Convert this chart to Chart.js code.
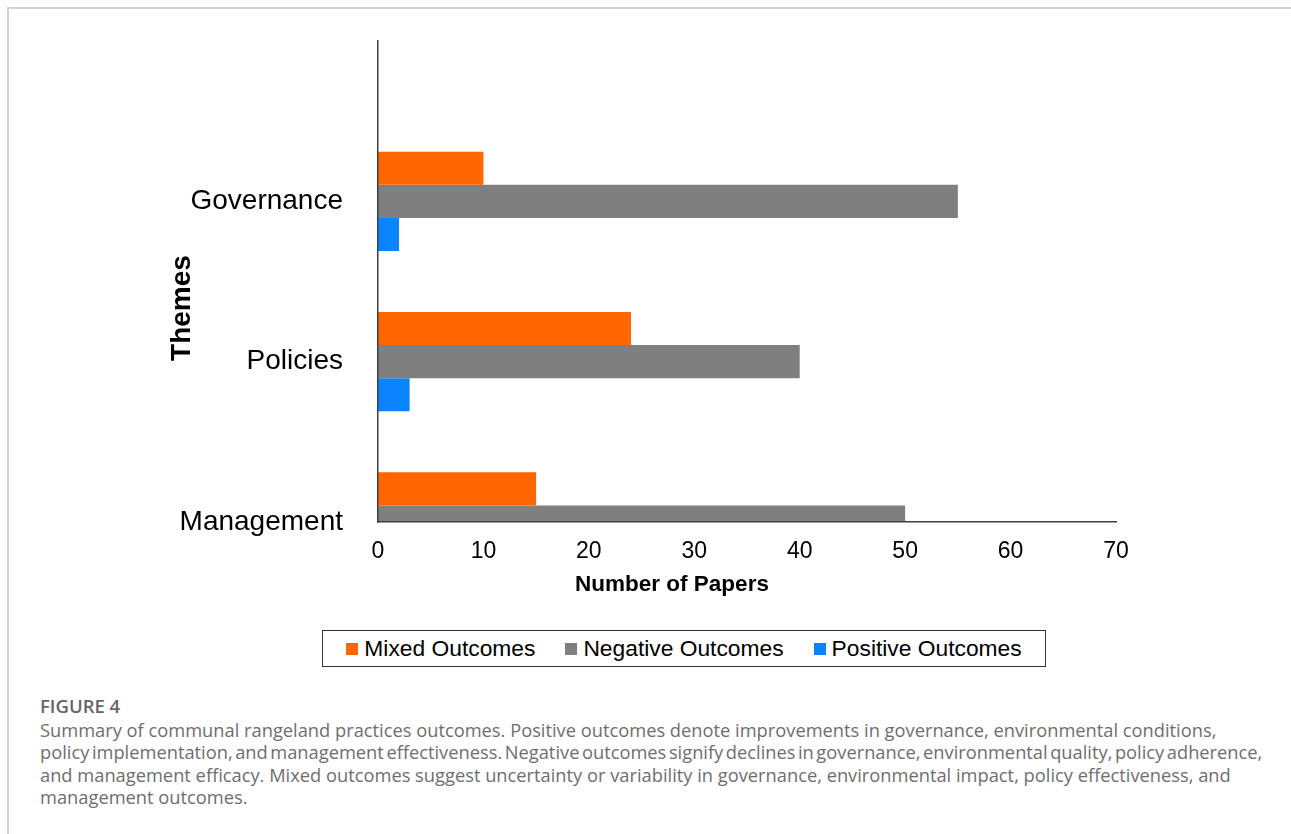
<!DOCTYPE html>
<html>
<head>
<meta charset="utf-8">
<script src="https://cdn.jsdelivr.net/npm/chart.js@4.4.1/dist/chart.umd.min.js"></script>
<style>
  html, body { margin: 0; padding: 0; background: #fff; }
  body { width: 1291px; height: 834px; position: relative; overflow: hidden; }
  #frame { position: absolute; left: 7px; top: 7px; width: 1400px; height: 900px;
           border-left: 2px solid #d2d2d2; border-top: 2px solid #d2d2d2; }
  #chart { position: absolute; left: 0; top: 0; }
  #legend { position: absolute; left: 322px; top: 630px; width: 722px; height: 35px;
            border: 1.5px solid #333; display: flex; align-items: center; justify-content: center;
            font-family: "Liberation Sans", Arial, sans-serif; font-size: 22.8px; color: #000; }
  .item { display: flex; align-items: center; margin: 0 15px; }
  .sw { width: 12px; height: 12px; margin-right: 6px; }
  #figlabel { position: absolute; left: 40px; top: 695px; font-family: "Open Sans", sans-serif;
              font-weight: 600; font-size: 18.5px; line-height: 22px; color: #666; }
  #caption { position: absolute; left: 40px; top: 718.5px; font-family: "Open Sans", sans-serif;
             font-size: 18.3px; line-height: 22.5px; color: #6e6e6e; white-space: nowrap; }
  #caption .tight { word-spacing: -2.2px; }
</style>
</head>
<body>
<div id="frame"></div>
<canvas id="chart" width="1291" height="610"></canvas>
<div id="legend"></div>
<div id="figlabel">FIGURE 4</div>
<div id="caption">Summary of communal rangeland practices outcomes. Positive outcomes denote improvements in governance, environmental conditions,<br><span class="tight">policy implementation, and management effectiveness. Negative outcomes signify declines in governance, environmental quality, policy adherence,</span><br>and management efficacy. Mixed outcomes suggest uncertainty or variability in governance, environmental impact, policy effectiveness, and<br>management outcomes.</div>
<script>
// ---- data ----
const categories = ['Governance', 'Policies', 'Management'];
const seriesNames = ['Mixed Outcomes', 'Negative Outcomes', 'Positive Outcomes'];
const mixedOutcomes = [10, 24, 15];
const negativeOutcomes = [55, 40, 50];
const positiveOutcomes = [2, 3, 0];
const xTicks = [0, 10, 20, 30, 40, 50, 60, 70];
const xTitle = 'Number of Papers';
const yTitle = 'Themes';
const seriesColors = ['#FF6600', '#7F7F7F', '#0A84FF'];

// an empty slot above the first category (as in the original layout)
const yLabels = [''].concat(categories);
const seriesValues = [mixedOutcomes, negativeOutcomes, positiveOutcomes];

const datasets = seriesValues.map((vals, i) => ({
  label: seriesNames[i],
  data: [null].concat(vals),
  backgroundColor: seriesColors[i],
  borderWidth: 0,
  categoryPercentage: 0.62,
  barPercentage: 1.0,
  clip: 0
}));

const titlesPlugin = {
  id: 'axisTitles',
  afterDraw(chart) {
    const ctx = chart.ctx;
    ctx.save();
    ctx.fillStyle = '#000';
    ctx.textAlign = 'center';
    ctx.textBaseline = 'middle';
    ctx.font = 'bold 22.5px "Liberation Sans", Arial, sans-serif';
    ctx.fillText(xTitle, 672, 585);
    ctx.translate(182, 308);
    ctx.rotate(-Math.PI / 2);
    ctx.font = 'bold 28px "Liberation Sans", Arial, sans-serif';
    ctx.fillText(yTitle, 0, 0);
    ctx.restore();
  }
};

new Chart(document.getElementById('chart'), {
  type: 'bar',
  data: { labels: yLabels, datasets: datasets },
  options: {
    indexAxis: 'y',
    responsive: false,
    animation: false,
    layout: { padding: { top: 41, left: 164, right: 175, bottom: 28 } },
    plugins: { legend: { display: false }, tooltip: { enabled: false } },
    scales: {
      x: {
        type: 'linear', min: 0, max: 70,
        afterBuildTicks(scale) { scale.ticks = xTicks.map(v => ({ value: v })); },
        afterFit(scale) { scale.height = 60; scale.paddingLeft = 0; scale.paddingRight = 0; },
        grid: { display: false, drawTicks: false },
        border: { display: true, color: '#404040', width: 1.5, z: 1 },
        ticks: { padding: 16, color: '#000', font: { family: '"Liberation Sans", Arial, sans-serif', size: 23 } }
      },
      y: {
        type: 'category', offset: false,
        afterFit(scale) { scale.width = 214; scale.paddingTop = 0; scale.paddingBottom = 0; },
        grid: { display: false, drawTicks: false },
        border: { display: true, color: '#404040', width: 1.5, z: 1 },
        ticks: { autoSkip: false, padding: 35, color: '#000', font: { family: '"Liberation Sans", Arial, sans-serif', size: 28 } }
      }
    }
  },
  plugins: [titlesPlugin]
});

// HTML legend built from the same arrays
const legendEl = document.getElementById('legend');
seriesNames.forEach((name, i) => {
  const it = document.createElement('div');
  it.className = 'item';
  const sw = document.createElement('span');
  sw.className = 'sw';
  sw.style.background = seriesColors[i];
  const tx = document.createElement('span');
  tx.textContent = name;
  it.appendChild(sw); it.appendChild(tx);
  legendEl.appendChild(it);
});
</script>
</body>
</html>
